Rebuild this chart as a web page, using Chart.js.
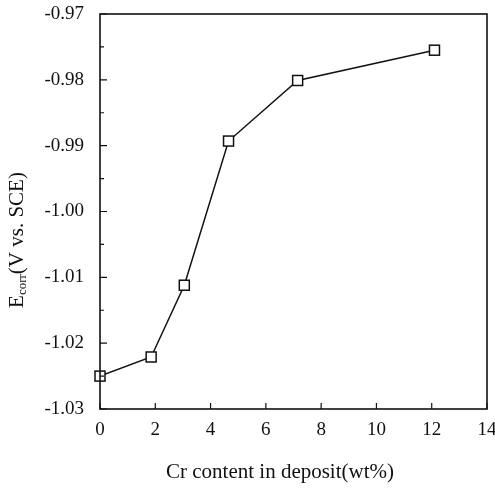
<!DOCTYPE html>
<html>
<head>
<meta charset="utf-8">
<script src="https://cdn.jsdelivr.net/npm/chart.js@4/dist/chart.umd.min.js"></script>
<style>
  html, body { margin: 0; padding: 0; background: #fff; }
  #wrap { width: 495px; height: 488px; }
</style>
</head>
<body>
<div id="wrap"><canvas id="ecorrChart" width="495" height="488"></canvas></div>
<script>
// --- Data ---
const crContent = [0, 1.85, 3.05, 4.65, 7.15, 12.1];
const ecorr = [-1.025, -1.0221, -1.0112, -0.9893, -0.9801, -0.9755];
const xTicks = [0, 2, 4, 6, 8, 10, 12, 14];
const yTicks = [-1.03, -1.02, -1.01, -1.00, -0.99, -0.98, -0.97];
const xTitle = "Cr content in deposit(wt%)";

const FONT = "'Liberation Serif', 'DejaVu Serif', serif";
const INK = "#111";

// frame + inward ticks + axis titles
const framePlugin = {
    id: "frame",
    afterDraw(chart) {
        const ctx = chart.ctx;
        const a = chart.chartArea;
        const xs = chart.scales.x, ys = chart.scales.y;
        ctx.save();
        ctx.strokeStyle = INK;
        ctx.lineWidth = 1.6;
        ctx.strokeRect(a.left, a.top, a.right - a.left, a.bottom - a.top);

        ctx.lineWidth = 1.2;
        ctx.beginPath();
        xTicks.forEach(v => {
            const px = xs.getPixelForValue(v);
            ctx.moveTo(px, a.bottom);
            ctx.lineTo(px, a.bottom - 6);
        });
        yTicks.forEach(v => {
            const py = ys.getPixelForValue(v);
            ctx.moveTo(a.left, py);
            ctx.lineTo(a.left + 7, py);
        });
        // minor ticks on y
        for (let i = 0; i < yTicks.length - 1; i++) {
            const py = ys.getPixelForValue((yTicks[i] + yTicks[i + 1]) / 2);
            ctx.moveTo(a.left, py);
            ctx.lineTo(a.left + 4, py);
        }
        ctx.stroke();

        // x title
        ctx.fillStyle = INK;
        ctx.font = "21px " + FONT;
        ctx.textAlign = "center";
        ctx.textBaseline = "middle";
        ctx.fillText(xTitle, 280, 472);

        // y title with subscript
        ctx.translate(17, 240);
        ctx.rotate(-Math.PI / 2);
        ctx.textBaseline = "middle";
        ctx.textAlign = "left";
        const big = "21px " + FONT, small = "13px " + FONT;
        ctx.font = big; const wE = ctx.measureText("E").width;
        ctx.font = small; const wSub = ctx.measureText("corr").width;
        ctx.font = big; const wRest = ctx.measureText("(V vs. SCE)").width;
        let x0 = -(wE + wSub + wRest) / 2;
        ctx.font = big; ctx.fillText("E", x0, 0);
        ctx.font = small; ctx.fillText("corr", x0 + wE, 6);
        ctx.font = big; ctx.fillText("(V vs. SCE)", x0 + wE + wSub, 0);
        ctx.restore();
    }
};

// square markers
function drawSquares(chart) {
    const ctx = chart.ctx;
    const meta = chart.getDatasetMeta(0);
    ctx.save();
    ctx.strokeStyle = INK;
    ctx.lineWidth = 1.5;
    ctx.fillStyle = "#fff";
    meta.data.forEach(pt => {
        ctx.fillRect(pt.x - 5, pt.y - 5, 10, 10);
        ctx.strokeRect(pt.x - 5, pt.y - 5, 10, 10);
    });
    ctx.restore();
}

new Chart(document.getElementById("ecorrChart"), {
    type: "line",
    data: {
        datasets: [{
            data: crContent.map((x, i) => ({ x: x, y: ecorr[i] })),
            borderColor: INK,
            borderWidth: 1.5,
            pointRadius: 0,
            tension: 0,
            fill: false
        }]
    },
    options: {
        responsive: false,
        animation: false,
        devicePixelRatio: 1,
        layout: { padding: { top: 14, right: 8, left: 0, bottom: 0 } },
        plugins: { legend: { display: false }, tooltip: { enabled: false } },
        scales: {
            x: {
                type: "linear",
                min: 0, max: 14,
                grid: { display: false },
                border: { display: false },
                afterFit(scale) {
                    scale.height = 79;
                    scale.paddingLeft = 0;
                    scale.paddingRight = 0;
                },
                afterBuildTicks(scale) { scale.ticks = xTicks.map(v => ({ value: v })); },
                ticks: {
                    color: INK,
                    padding: 2,
                    font: { family: FONT, size: 19 },
                    callback: v => String(v)
                }
            },
            y: {
                type: "linear",
                min: -1.03, max: -0.97,
                grid: { display: false },
                border: { display: false },
                afterFit(scale) {
                    scale.width = 100;
                    scale.paddingTop = 0;
                    scale.paddingBottom = 0;
                },
                afterBuildTicks(scale) { scale.ticks = yTicks.map(v => ({ value: v })); },
                ticks: {
                    color: INK,
                    padding: 8,
                    font: { family: FONT, size: 19 },
                    callback: v => v.toFixed(2)
                }
            }
        }
    },
    plugins: [framePlugin, { id: "squares", afterDatasetsDraw: drawSquares }]
});
</script>
</body>
</html>
